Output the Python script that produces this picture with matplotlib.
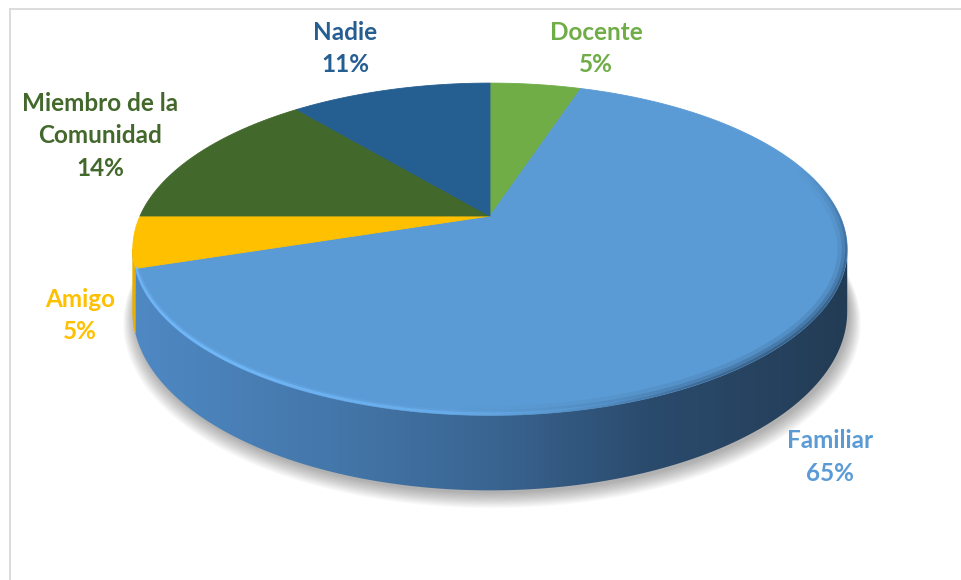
import numpy as np
import matplotlib
matplotlib.use("Agg")
import matplotlib.pyplot as plt
from matplotlib.patches import Polygon
from matplotlib.collections import LineCollection
from matplotlib.colors import LinearSegmentedColormap, to_rgba

# ---------------- data ----------------
categories = ["Docente", "Familiar", "Amigo", "Miembro de la\nComunidad", "Nadie"]
values = [5, 65, 5, 14, 11]
colors = ["#70AD47", "#5B9BD5", "#FFC000", "#43682B", "#255E91"]
side_colors = ["#5a8c39", "#4a80b8", "#E8AE00", "#34521f", "#1c4a73"]

# ---------------- layout / style ----------------
W, H = 962, 580
CX, CY = 490, 216        # pie centre (pixels)
A, B = 350, 159.5        # projected radii
K = 0.2                  # perspective strength
D = 60                   # depth of the pie
label_pos = [(596, 39.5), (830, 448.3), (80, 306.7), (100, 111), (345, 39.5)]
LINE_STEP = 32.3

fig = plt.figure(figsize=(W / 100, H / 100), dpi=100)
ax = fig.add_axes([0, 0, 1, 1])
ax.set_xlim(0, W)
ax.set_ylim(H, 0)
ax.axis("off")


def proj(theta, drop=0.0):
    t = np.radians(theta)
    u = np.sin(t)
    v = -np.cos(t)
    w = 1 - K * v
    return CX + A * u / w, CY + B * v / w + drop / w


total = float(sum(values))
cum = np.concatenate([[0.0], np.cumsum(values)]) / total * 360.0
th_r = np.degrees(np.arccos(-K))
th_l = 360.0 - th_r

# ---------------- chart frame ----------------
ax.plot([10, W], [9, 9], color="#d9d9d9", lw=1.3, zorder=0)
ax.plot([10, 10], [9, H], color="#d9d9d9", lw=1.3, zorder=0)

# ---------------- soft shadow ----------------
ths = np.linspace(0, 360, 361)
bx, by = proj(ths, D)
bcx, bcy = CX, CY + D
for i in range(14):
    s = 1.0 + 0.0025 * i
    xs = bcx + (bx - bcx) * s + 2
    ys = bcy + (by - bcy) * s + 3 + 0.6 * i
    ax.add_patch(Polygon(np.column_stack([xs, ys]), closed=True,
                         facecolor=(0, 0, 0, 0.022), edgecolor="none", zorder=1))

# ---------------- side walls ----------------
grad_cmap = LinearSegmentedColormap.from_list(
    "side",
    [(0.0, "#4f89c4"), (0.28, "#4477aa"), (0.5, "#3a6592"),
     (0.72, "#2b4b6d"), (1.0, "#233c55")])
for i, (c1, c2) in enumerate(zip(cum[:-1], cum[1:])):
    a, b = max(c1, th_r), min(c2, th_l)
    if a >= b:
        continue
    t = np.linspace(a, b, 200)
    xt, yt = proj(t)
    xb, yb = proj(t[::-1], D)
    pts = np.column_stack([np.concatenate([xt, xb]), np.concatenate([yt, yb])])
    if i == 1:
        clip = Polygon(pts, closed=True, facecolor="none", edgecolor="none")
        ax.add_patch(clip)
        grad = np.linspace(0, 1, 256).reshape(1, -1)
        im = ax.imshow(grad, extent=(CX - A * 1.03, CX + A * 1.03, CY + 300, CY - 50),
                       aspect="auto", cmap=grad_cmap, interpolation="bilinear", zorder=2)
        im.set_clip_path(clip)
    else:
        ax.add_patch(Polygon(pts, closed=True, facecolor=side_colors[i],
                             edgecolor=side_colors[i], lw=0.5, zorder=2))

# ---------------- top surface ----------------
for i, (c1, c2) in enumerate(zip(cum[:-1], cum[1:])):
    t = np.linspace(c1, c2, max(int((c2 - c1) * 2), 4))
    xt, yt = proj(t)
    pts = np.column_stack([np.concatenate([[CX], xt]), np.concatenate([[CY], yt])])
    ax.add_patch(Polygon(pts, closed=True, facecolor=colors[i],
                         edgecolor=colors[i], lw=0.6, zorder=3))

# top ellipse clip for rim shading
tt = np.linspace(0, 360, 721)
ex, ey = proj(tt)
top_clip = Polygon(np.column_stack([ex, ey]), closed=True, facecolor="none",
                   edgecolor="none", zorder=0)
ax.add_patch(top_clip)

# dark bevel on the right side of the rim
t0, t1 = 70, 185
t = np.linspace(t0, t1, 300)
xr, yr = proj(t)
segs = [[(xr[j], yr[j]), (xr[j + 1], yr[j + 1])] for j in range(len(t) - 1)]
tm = 0.5 * (t[:-1] + t[1:])
alph = np.clip(np.sin(np.radians((tm - t0) / (t1 - t0) * 180)), 0, 1) ** 1.2 * 0.4
for lw, fac in [(14, 0.3), (8, 0.55), (3, 0.9)]:
    lc = LineCollection(segs, colors=[to_rgba("#1d3550", al * fac) for al in alph],
                        linewidths=lw, zorder=4, capstyle="butt")
    ax.add_collection(lc)
    lc.set_clip_path(top_clip)

# light highlight along the front-left rim (Familiar slice only)
t_end = min(cum[2], th_l)
t = np.linspace(150, t_end, 300)
xh, yh = proj(t)
yh = yh - 1.5
segs = [[(xh[j], yh[j]), (xh[j + 1], yh[j + 1])] for j in range(len(t) - 1)]
tm = 0.5 * (t[:-1] + t[1:])
alph = np.clip((tm - 150) / 70.0, 0, 1) * 0.85
for lw, fac in [(5, 0.3), (2.2, 1.0)]:
    lc = LineCollection(segs, colors=[to_rgba("#74bcff", al * fac) for al in alph],
                        linewidths=lw, zorder=5, capstyle="butt")
    ax.add_collection(lc)
    lc.set_clip_path(top_clip)

# ---------------- labels ----------------
for name, val, col, (lx, ly) in zip(categories, values, colors, label_pos):
    lines = name.split("\n") + [f"{val}%"]
    for j, line in enumerate(lines):
        ax.text(lx, ly + j * LINE_STEP, line, ha="center", va="baseline",
                color=col, fontsize=17.5, fontweight="bold", family=["Lato", "DejaVu Sans"],
                zorder=6)

fig.savefig("out.png", dpi=100)
